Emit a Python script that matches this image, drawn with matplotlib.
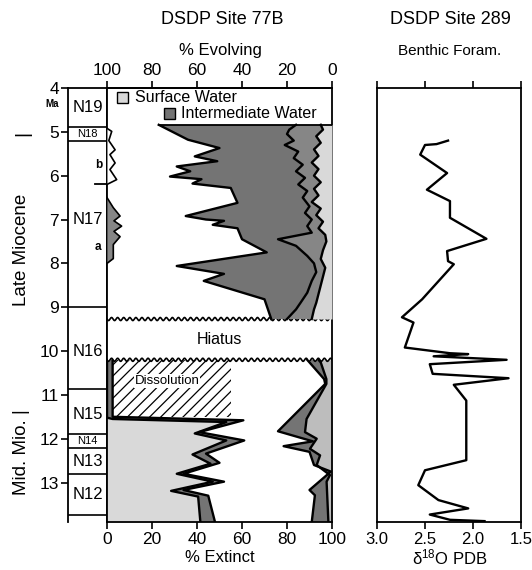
import numpy as np
import matplotlib
matplotlib.use("Agg")
import matplotlib.pyplot as plt
from matplotlib.patches import Rectangle

plt.rcParams['font.family'] = ['Liberation Sans', 'DejaVu Sans']
plt.rcParams['mathtext.fontset'] = 'custom'
plt.rcParams['mathtext.rm'] = 'Liberation Sans'
plt.rcParams['mathtext.it'] = 'Liberation Sans'
plt.rcParams['hatch.linewidth'] = 0.9

# ---------------- data ----------------
age_ticks = [4, 5, 6, 7, 8, 9, 10, 11, 12, 13]
zone_bounds = [4.9, 5.2, 9.0, 10.86, 11.9, 12.22, 12.8, 13.73]
zone_names = ['N19', 'N18', 'N17', 'N16', 'N15', 'N14', 'N13', 'N12']
zone_name_age = [4.45, 5.05, 7.0, 10.0, 11.45, 12.06, 12.52, 13.27]
zone_small = [False, True, False, False, False, True, False, False]

evol_ticks = [100, 80, 60, 40, 20, 0]
ext_ticks = [0, 20, 40, 60, 80, 100]
d18_ticks = [3.0, 2.5, 2.0, 1.5]
d18_labels = ['3.0', '2.5', '2.0', '1.5']

# Late Miocene: % evolving
intA_age = [4.84, 5.18, 5.37, 5.56, 5.67, 5.79, 5.90, 6.02, 6.08, 6.18, 6.28, 6.62,
            6.92, 7.00, 7.03, 7.12, 7.20, 7.45, 7.75, 8.06, 8.24, 8.40, 8.82, 9.27]
intA_evol = [77, 64, 50, 61, 51, 69, 63, 72, 58, 62, 45, 42,
             65, 56, 48, 53, 42, 40, 29, 69, 48, 57, 30, 27]

intB_age = [4.84, 4.95, 5.05, 5.2, 5.3, 5.45, 5.6, 5.75, 5.9, 6.05, 6.2, 6.35, 6.5,
            6.7, 6.85, 7.0, 7.15, 7.3, 7.45, 7.6, 7.83, 8.0, 8.2, 8.4, 8.67, 8.9, 9.05, 9.27]
intB_evol = [16, 19, 20, 17, 21, 15, 17, 13, 16, 12, 15, 11, 13,
             10, 12, 9, 11, 9, 24, 16, 11, 8, 7, 9, 11, 14, 16, 20]

surfU_age = [4.84, 4.95, 5.1, 5.25, 5.4, 5.55, 5.7, 5.85, 6.0, 6.15, 6.3, 6.45, 6.6,
             6.75, 6.9, 7.05, 7.2, 7.35, 7.5, 7.7, 7.9, 8.1, 8.3, 8.5, 8.7, 8.9, 9.05, 9.27]
surfU_evol = [5, 4, 7, 5, 8, 6, 9, 6, 8, 5, 8, 6, 9,
              5, 7, 4, 6, 3, 2.5, 4, 5, 3, 4, 5, 6, 7, 8, 9]

deepW_age = [4.92, 4.99, 5.2, 5.41, 5.52, 5.71, 5.86, 6.09, 6.2]
deepW_evol = [100, 97.9, 99.2, 96.4, 98.7, 96.4, 98.7, 95.7, 100]
deepD_age = [6.5, 6.73, 6.92, 7.03, 7.15, 7.27, 7.39, 7.57, 7.89, 8.0]
deepD_evol = [100, 97.2, 94.2, 96.9, 93.5, 96.9, 94.2, 97.2, 97.2, 100]

# Middle Miocene: % extinct
surfL_age = [10.2, 11.52, 11.55, 11.62, 11.88, 12.04, 12.36, 12.57, 12.8, 12.98, 13.19, 13.32, 13.9]
surfL_ext = [0, 0, 2.5, 53, 39, 53, 38, 46, 31, 47, 28.5, 40.5, 41.5]
intL_age = [10.2, 11.5, 11.58, 11.85, 12.04, 12.34, 12.55, 12.8, 12.98, 13.17, 13.3, 13.9]
intL_ext = [2.5, 2.5, 60.6, 41, 61, 44, 50, 34, 52, 34, 45, 48]

R1_age = [10.2, 10.26, 10.64, 10.75, 11.83, 12.06, 12.17, 12.3, 12.6, 12.75, 13.17, 13.29, 13.9]
R1_ext = [89, 90, 96.5, 97, 76, 91.5, 78.5, 90, 92, 99.5, 90, 92.4, 91]
R2_age = [10.2, 10.26, 10.64, 10.75, 11.55, 11.85, 12.0, 12.23, 12.38, 12.6, 12.83, 12.98, 13.9]
R2_ext = [94, 95, 97.5, 97.5, 88.7, 88, 93.2, 90.2, 94.7, 93.2, 99.1, 97.6, 98.4]

# DSDP 289 benthic d18O
d18_age = [5.2, 5.28, 5.3, 5.52, 5.94, 6.32, 6.58, 6.96, 7.44, 7.72, 7.95, 8.02, 8.82,
           9.23, 9.35, 9.92, 10.05, 10.07, 10.12, 10.2, 10.3, 10.52, 10.62, 10.77, 11.13,
           12.49, 12.72, 13.06, 13.4, 13.59, 13.73, 13.85, 13.88]
d18_val = [2.26, 2.38, 2.5, 2.55, 2.27, 2.48, 2.24, 2.24, 1.86, 2.27, 2.26, 2.2, 2.53,
           2.74, 2.62, 2.71, 2.24, 2.05, 2.41, 1.65, 2.45, 2.42, 1.63, 2.2, 2.07,
           2.07, 2.5, 2.57, 2.36, 2.05, 2.45, 2.24, 1.88]

hiatus_top, hiatus_bot = 9.27, 10.2
dissol_box = (2.5, 55, 10.2, 11.5)

# ---------------- layout ----------------
W, H = 532, 570
fig = plt.figure(figsize=(W / 100, H / 100), dpi=100)


def box(l, t, r, b):
    return [l / W, 1 - b / H, (r - l) / W, (b - t) / H]


YLIM = (13.9, 4.0)
DARK = '#747474'
MID = '#868686'
LIGHT = '#d9d9d9'
LW = 1.7
SP = 1.3

ax_zone = fig.add_axes(box(68, 88, 107, 522))
ax_low = fig.add_axes(box(107, 88, 332, 522))
ax_up = fig.add_axes(box(107, 88, 332, 522))
ax_r = fig.add_axes(box(377, 88, 521, 522))

for a in (ax_zone, ax_low, ax_up, ax_r):
    a.set_ylim(*YLIM)
    for s in a.spines.values():
        s.set_linewidth(SP)

# ---- zone column ----
ax_zone.set_xlim(0, 1)
ax_zone.set_xticks([])
ax_zone.set_yticks(age_ticks)
ax_zone.tick_params(axis='y', direction='out', length=5, width=1.2, pad=1.5, labelsize=12.5)
ax_zone.spines['bottom'].set_visible(False)
for b in zone_bounds:
    ax_zone.axhline(b, color='black', lw=1.2)
for nm, ag, sm in zip(zone_names, zone_name_age, zone_small):
    ax_zone.text(0.5, ag, nm, ha='center', va='center', fontsize=8 if sm else 12)
ax_zone.plot([0.68, 1.0], [6.2, 6.2], color='black', lw=1.3, clip_on=False)
ax_zone.text(0.78, 5.75, 'b', ha='center', va='center', fontsize=8.5, fontweight='bold')
ax_zone.text(0.78, 7.62, 'a', ha='center', va='center', fontsize=8.5, fontweight='bold')
fig.text(52 / W, 1 - 104 / H, 'Ma', ha='center', va='center', fontsize=7, fontweight='bold')

# epoch labels
fig.text(22 / W, 1 - 250 / H, 'Late Miocene', rotation=90, ha='center', va='center', fontsize=13.5)
fig.text(22 / W, 1 - 452 / H, 'Mid. Mio. |', rotation=90, ha='center', va='center', fontsize=13.5)
fig.text(23 / W, 1 - 133 / H, '|', rotation=90, ha='center', va='center', fontsize=14)

# ---- lower axes (% extinct) ----
ax_low.set_xlim(0, 100)
ax_low.set_xticks(ext_ticks)
ax_low.tick_params(axis='x', direction='out', length=5, width=1.2, pad=2, labelsize=12.5)
ax_low.tick_params(axis='y', left=False, labelleft=False)

ax_low.fill_betweenx(surfL_age, 0, surfL_ext, color=LIGHT, lw=0)
ax_low.fill(list(intL_ext) + list(surfL_ext[::-1]), list(intL_age) + list(surfL_age[::-1]),
            color=DARK, lw=0)
ax_low.plot(surfL_ext, surfL_age, color='black', lw=LW)
ax_low.plot(intL_ext, intL_age, color='black', lw=LW)

ax_low.fill_betweenx(R2_age, R2_ext, 100, color='#bdbdbd', lw=0)
ax_low.fill(list(R1_ext) + list(R2_ext[::-1]), list(R1_age) + list(R2_age[::-1]),
            color=DARK, lw=0)
ax_low.plot(R1_ext, R1_age, color='black', lw=LW)
ax_low.plot(R2_ext, R2_age, color='black', lw=LW)

x0, x1, y0, y1 = dissol_box
ax_low.add_patch(Rectangle((x0, y0), x1 - x0, y1 - y0, facecolor='white',
                           edgecolor='black', hatch='///', lw=0, zorder=1.5))
ax_low.text((x0 + x1) / 2 - 2, 10.68, 'Dissolution', ha='center', va='center',
            fontsize=9.5, zorder=3,
            bbox=dict(boxstyle='square,pad=0.05', facecolor='white', edgecolor='none'))

# hiatus
xw = np.linspace(0, 100, 600)
wave = 0.035 * np.sin(xw / 100 * 2 * np.pi * 37)
ax_low.fill_between(xw, hiatus_top + wave, hiatus_bot + wave, color='white', lw=0, zorder=2.5)
ax_low.plot(xw, hiatus_top + wave, color='black', lw=1.2, zorder=3)
ax_low.plot(xw, hiatus_bot + wave, color='black', lw=1.2, zorder=3)
ax_low.text(50, 9.74, 'Hiatus', ha='center', va='center', fontsize=11.5, zorder=4)

# ---- upper axes (% evolving) ----
ax_up.patch.set_visible(False)
ax_up.set_xlim(100, 0)
ax_up.xaxis.tick_top()
ax_up.set_xticks(evol_ticks)
ax_up.tick_params(axis='x', direction='out', length=5, width=1.2, pad=2, labelsize=12.5)
ax_up.tick_params(axis='y', left=False, labelleft=False)
for s in ('left', 'right', 'bottom'):
    ax_up.spines[s].set_visible(False)

ax_up.fill_betweenx(surfU_age, 0, surfU_evol, color=LIGHT, lw=0)
ax_up.fill(list(intB_evol) + list(surfU_evol[::-1]), list(intB_age) + list(surfU_age[::-1]),
           color=MID, lw=0)
ax_up.fill(list(intA_evol) + list(intB_evol[::-1]), list(intA_age) + list(intB_age[::-1]),
           color=DARK, lw=0)
for xs, ys in ((intA_evol, intA_age), (intB_evol, intB_age), (surfU_evol, surfU_age)):
    ax_up.plot(xs, ys, color='black', lw=LW)
ax_up.plot([intA_evol[0], 0], [intA_age[0], intA_age[0]], color='black', lw=1.3)

ax_up.fill_betweenx(deepW_age, deepW_evol, 100, color='white', lw=0)
ax_up.plot(deepW_evol, deepW_age, color='black', lw=1.2)
ax_up.fill_betweenx(deepD_age, deepD_evol, 100, color=MID, lw=0)
ax_up.plot(deepD_evol, deepD_age, color='black', lw=1.2)

# legend
ax_low.add_patch(Rectangle((4.4, 4.09), 4.9, 0.25, facecolor=LIGHT, edgecolor='black', lw=1))
ax_low.text(12.5, 4.22, 'Surface Water', ha='left', va='center', fontsize=11.5)
ax_low.add_patch(Rectangle((25.3, 4.45), 4.9, 0.25, facecolor=DARK, edgecolor='black', lw=1))
ax_low.text(33.0, 4.58, 'Intermediate Water', ha='left', va='center', fontsize=11.5)

# ---- right panel ----
ax_r.set_xlim(3.0, 1.5)
ax_r.set_xticks(d18_ticks)
ax_r.set_xticklabels(d18_labels)
ax_r.tick_params(axis='x', top=True, labeltop=False, direction='out', length=5, width=1.2,
                 pad=2, labelsize=12)
ax_r.tick_params(axis='y', left=False, labelleft=False)
ax_r.plot(d18_val, d18_age, color='black', lw=LW)

# ---- titles ----
fig.text(222 / W, 1 - 20 / H, 'DSDP Site 77B', ha='center', va='center', fontsize=13)
fig.text(220 / W, 1 - 50 / H, '% Evolving', ha='center', va='center', fontsize=12)
fig.text(220 / W, 1 - 558 / H, '% Extinct', ha='center', va='center', fontsize=12)
fig.text(450 / W, 1 - 20 / H, 'DSDP Site 289', ha='center', va='center', fontsize=13)
fig.text(450 / W, 1 - 51 / H, 'Benthic Foram.', ha='center', va='center', fontsize=11)
fig.text(450 / W, 1 - 557 / H, 'δ$^{18}$O PDB', ha='center', va='center', fontsize=12)

fig.savefig('out.png', dpi=100)
